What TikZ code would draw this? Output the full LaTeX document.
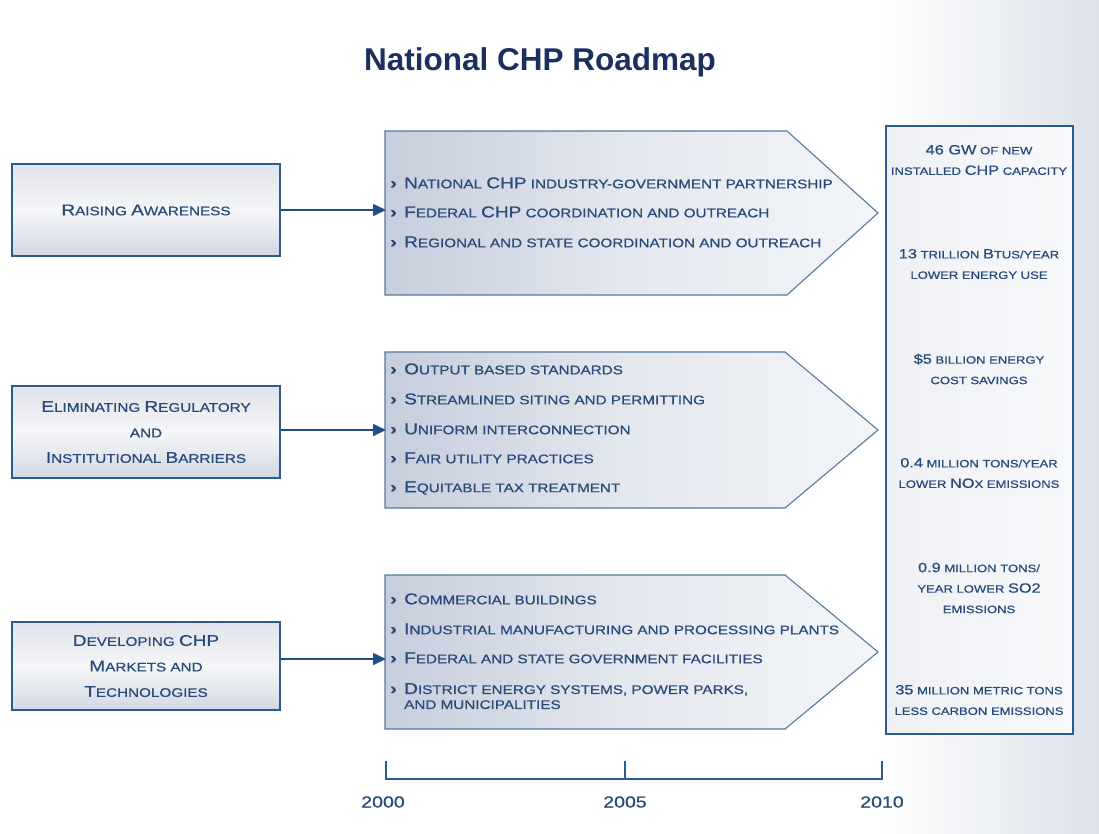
\documentclass[tikz,border=0pt]{standalone}
\usepackage{fontspec}
\usepackage{graphicx}
\setmainfont{Liberation Sans}
\newfontfamily\cg[FakeStretch=1.22,FakeBold=0.7]{Liberation Sans}
\usetikzlibrary{arrows.meta,calc}
\definecolor{navy}{HTML}{1B305E}
\definecolor{txt}{HTML}{284B7A}
\definecolor{bord}{HTML}{2C5C8E}
\definecolor{arr}{HTML}{1F4F86}
\definecolor{chevb}{HTML}{5679A0}
\definecolor{bgr}{HTML}{DCE1EA}
\definecolor{boxtop}{HTML}{DFE2EA}
\definecolor{boxmid}{HTML}{F5F6F8}
\definecolor{boxbot}{HTML}{D2D8E4}
\definecolor{chevl}{HTML}{C6CEDC}
\definecolor{chevm}{HTML}{E4E8EF}
\definecolor{chevr}{HTML}{F3F5F8}
\definecolor{resl}{HTML}{EEF0F4}
\definecolor{resr}{HTML}{F8F9FB}
\newcommand\K[1]{\scalebox{1.25}{#1}}
\newcommand\bl{\makebox[14pt][l]{\raisebox{-0.3pt}{\scalebox{1.3}{\textbf{›}}}}}
\begin{document}
\begin{tikzpicture}[x=1pt,y=-1pt,
  leftbox/.style={draw=bord, line width=1.6pt, top color=boxtop, bottom color=boxbot, middle color=boxmid,
    minimum width=268pt, minimum height=92pt, inner sep=0pt, align=center, text=txt,
    font=\cg\fontsize{12.5}{25.5}\selectfont},
  chev/.style={draw=chevb, line width=1.1pt, left color=chevl, right color=chevr, middle color=chevm},
  item/.style={anchor=west, inner sep=0pt, text=txt, align=left, font=\cg\fontsize{12.5}{15}\selectfont},
  res/.style={anchor=center, inner sep=0pt, text=txt, align=center, font=\cg\fontsize{10.7}{20.5}\selectfont},
  conn/.style={draw=arr, line width=1.6pt, -{Triangle[length=13pt,width=12pt]}},
  tl/.style={draw=bord, line width=1.6pt},
  year/.style={text=txt, inner sep=0pt, font=\cg\fontsize{16}{16}\selectfont}]
\useasboundingbox (0,0) rectangle (1099,833);
\fill[white] (0,0) rectangle (1099,833);
\shade[left color=white, right color=bgr] (880,0) rectangle (1099,833);

% title
\node[text=navy, font=\bfseries\fontsize{31.5}{33}\selectfont, inner sep=0pt] (title) at (540,62) {National CHP Roadmap};

% left boxes
\node[leftbox] (b1) at (146,210) {\K{R}AISING \K{A}WARENESS};
\node[leftbox] (b2) at (146,432) {\K{E}LIMINATING \K{R}EGULATORY\\AND\\\K{I}NSTITUTIONAL \K{B}ARRIERS};
\node[leftbox, minimum height=88pt] (b3) at (146,666) {\K{D}EVELOPING \K{CHP}\\\K{M}ARKETS AND\\\K{T}ECHNOLOGIES};

% chevrons
\path[chev] (385,131) -- (787,131) -- (878,213) -- (787,295) -- (385,295) -- cycle;
\path[chev] (385,352) -- (785,352) -- (878,430) -- (785,508) -- (385,508) -- cycle;
\path[chev] (385,575) -- (785,575) -- (878,652) -- (785,729) -- (385,729) -- cycle;
\coordinate (c1) at (386,210);
\coordinate (c2) at (386,430);
\coordinate (c3) at (386,659);

% items
\node[item] (i11) at (390,183) {\bl\K{N}ATIONAL \K{CHP} INDUSTRY-GOVERNMENT PARTNERSHIP};
\node[item] (i12) at (390,212) {\bl\K{F}EDERAL \K{CHP} COORDINATION AND OUTREACH};
\node[item] (i13) at (390,242) {\bl\K{R}EGIONAL AND STATE COORDINATION AND OUTREACH};

\node[item] (i21) at (390,369) {\bl\K{O}UTPUT BASED STANDARDS};
\node[item] (i22) at (390,399) {\bl\K{S}TREAMLINED SITING AND PERMITTING};
\node[item] (i23) at (390,429) {\bl\K{U}NIFORM INTERCONNECTION};
\node[item] (i24) at (390,458) {\bl\K{F}AIR UTILITY PRACTICES};
\node[item] (i25) at (390,488) {\bl\K{E}QUITABLE TAX TREATMENT};

\node[item] (i31) at (390,599) {\bl\K{C}OMMERCIAL BUILDINGS};
\node[item] (i32) at (390,629) {\bl\K{I}NDUSTRIAL MANUFACTURING AND PROCESSING PLANTS};
\node[item] (i33) at (390,658) {\bl\K{F}EDERAL AND STATE GOVERNMENT FACILITIES};
\node[item, anchor=north west] (i34) at (390,683) {\bl\K{D}ISTRICT ENERGY SYSTEMS, POWER PARKS,\\\hspace*{14pt}AND MUNICIPALITIES};

% connectors
\draw[conn] (b1.east) -- (c1);
\draw[conn] (b2.east |- c2) -- (c2);
\draw[conn] (b3.east |- c3) -- (c3);

% results box
\node[draw=bord, line width=1.6pt, left color=resl, right color=resr, minimum width=187pt, minimum height=608pt, inner sep=0pt] (rb) at (979.5,430) {};
\node[res] (r1) at (979,160) {\K{46 GW} OF NEW\\INSTALLED \K{CHP} CAPACITY};
\node[res] (r2) at (979,264) {\K{13} TRILLION \K{B}TUS/YEAR\\LOWER ENERGY USE};
\node[res] (r3) at (979,369) {\K{\$5} BILLION ENERGY\\COST SAVINGS};
\node[res] (r4) at (979,473) {\K{0.4} MILLION TONS/YEAR\\LOWER \K{NO}X EMISSIONS};
\node[res] (r5) at (979,588) {\K{0.9} MILLION TONS/\\YEAR LOWER \K{SO2}\\EMISSIONS};
\node[res] (r6) at (979,700) {\K{35} MILLION METRIC TONS\\LESS CARBON EMISSIONS};

% timeline
\coordinate (t0) at (386,779);
\coordinate (t5) at (625,779);
\coordinate (t10) at (882,779);
\coordinate (t0u) at (386,761);
\coordinate (t5u) at (625,761);
\coordinate (t10u) at (882,761);
\draw[tl] (t0u) -- (t0) -- (t10) -- (t10u);
\draw[tl] (t5) -- (t5u);
\node[year] (y0) at (383,802) {2000};
\node[year] (y5) at (625,802) {2005};
\node[year] (y10) at (882,802) {2010};
\end{tikzpicture}
\end{document}
